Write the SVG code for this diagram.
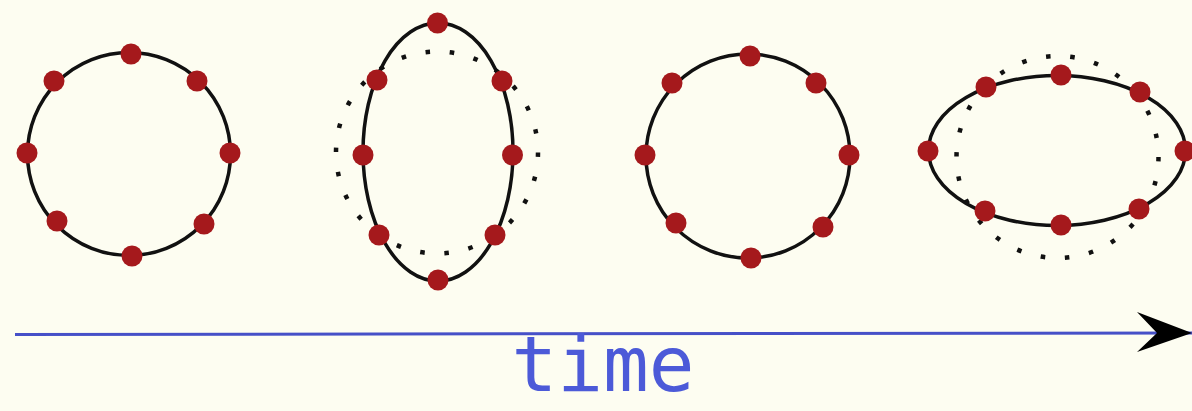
<svg xmlns="http://www.w3.org/2000/svg" width="1192" height="411" viewBox="0 0 1192 411">
<defs>
<style>
.ring{fill:none;stroke:#111;stroke-width:3.5}
.ghost{fill:none;stroke:#111;stroke-width:4.5;stroke-dasharray:4.5 19.9}
.dot{fill:#a5191c}
.lbl{font-family:"DejaVu Sans Mono","Liberation Mono",monospace;font-size:76px;fill:#4c5ad8}
</style>
<marker id="head" markerUnits="userSpaceOnUse" markerWidth="60" markerHeight="44" refX="55" refY="21" orient="auto">
<path d="M0,0 L55,21 L0,40 L20,21 Z" fill="#000"/>
</marker>
</defs>
<rect width="1192" height="411" fill="#fdfdf1"/>
<g id="state1">
<circle class="ring" cx="129" cy="154" r="101.5"/>
<g class="dot">
<circle cx="131" cy="54" r="10.5"/><circle cx="197" cy="81" r="10.5"/><circle cx="230" cy="153" r="10.5"/><circle cx="204" cy="224" r="10.5"/>
<circle cx="132" cy="256" r="10.5"/><circle cx="57" cy="221" r="10.5"/><circle cx="27" cy="153" r="10.5"/><circle cx="54" cy="81" r="10.5"/>
</g>
</g>
<g id="state2">
<circle class="ghost" cx="437" cy="152.5" r="101"/>
<ellipse class="ring" cx="438" cy="152" rx="75" ry="129"/>
<g class="dot">
<circle cx="437.5" cy="23" r="10.5"/><circle cx="502" cy="81" r="10.5"/><circle cx="512.5" cy="155" r="10.5"/><circle cx="495" cy="235" r="10.5"/>
<circle cx="438" cy="280" r="10.5"/><circle cx="379" cy="235" r="10.5"/><circle cx="363" cy="155" r="10.5"/><circle cx="377" cy="80" r="10.5"/>
</g>
</g>
<g id="state3">
<circle class="ring" cx="748" cy="156" r="102"/>
<g class="dot">
<circle cx="750" cy="56" r="10.5"/><circle cx="816" cy="83" r="10.5"/><circle cx="849" cy="155" r="10.5"/><circle cx="823" cy="227" r="10.5"/>
<circle cx="751" cy="258" r="10.5"/><circle cx="676" cy="223" r="10.5"/><circle cx="645" cy="155" r="10.5"/><circle cx="672" cy="83" r="10.5"/>
</g>
</g>
<g id="state4">
<circle class="ghost" cx="1057.5" cy="157" r="101"/>
<ellipse class="ring" cx="1057" cy="150.5" rx="128.5" ry="75"/>
<g class="dot">
<circle cx="1061" cy="75" r="10.5"/><circle cx="1140" cy="92" r="10.5"/><circle cx="1185" cy="151" r="10.5"/><circle cx="1139" cy="209" r="10.5"/>
<circle cx="1061" cy="225" r="10.5"/><circle cx="985" cy="211" r="10.5"/><circle cx="928" cy="151" r="10.5"/><circle cx="986" cy="87" r="10.5"/>
</g>
</g>
<g id="connectors">
<line x1="15" y1="334.5" x2="1192" y2="333" stroke="#4650c8" stroke-width="3" marker-end="url(#head)"/>
</g>
<text class="lbl" x="603" y="391" text-anchor="middle">time</text>
</svg>
